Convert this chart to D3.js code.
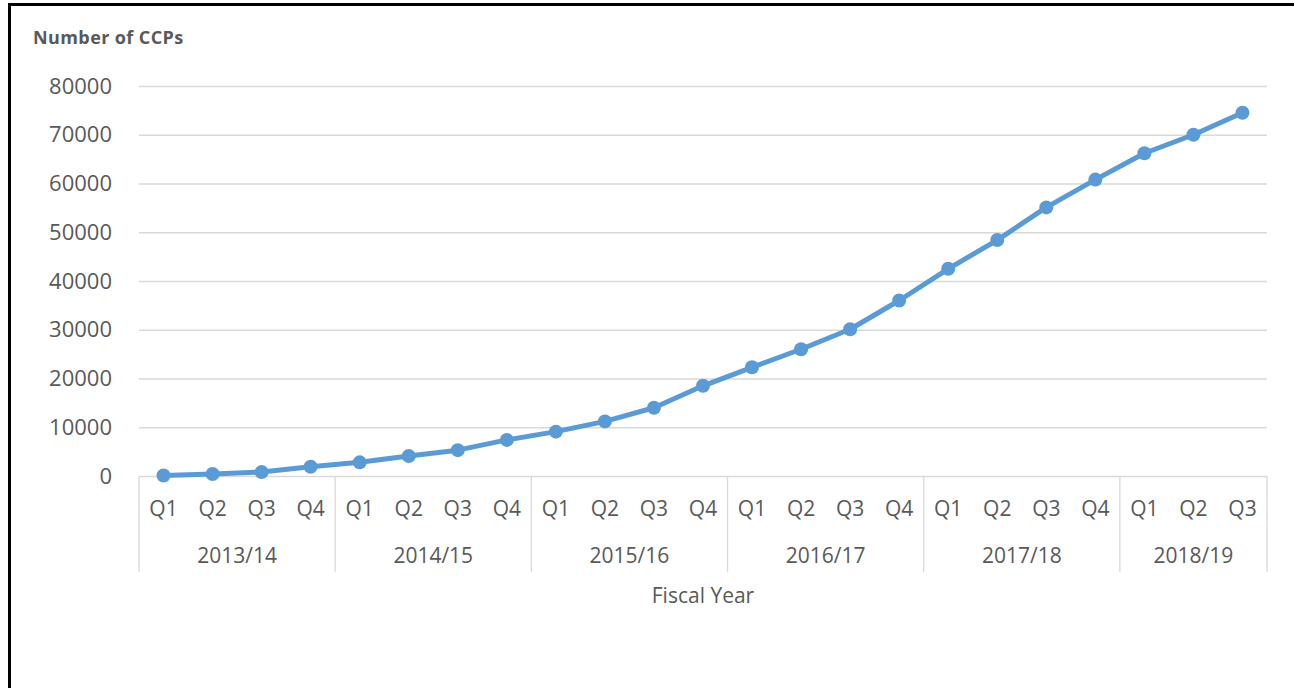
<!DOCTYPE html>
<html>
<head>
<meta charset="utf-8">
<script src="https://cdn.jsdelivr.net/npm/d3@7"></script>
<style>
  body { margin: 0; background: #fff; }
  text { font-family: 'Open Sans', sans-serif; fill: #595959; }
</style>
</head>
<body>
<svg id="chart" width="1294" height="688"></svg>
<script>
// quarterly counts
const fiscal_years = ['2013/14', '2014/15', '2015/16', '2016/17', '2017/18', '2018/19']
const quarters = ['Q1', 'Q2', 'Q3', 'Q4', 'Q1', 'Q2', 'Q3', 'Q4', 'Q1', 'Q2', 'Q3', 'Q4',
                  'Q1', 'Q2', 'Q3', 'Q4', 'Q1', 'Q2', 'Q3', 'Q4', 'Q1', 'Q2', 'Q3']
const quarter_year = [0, 0, 0, 0, 1, 1, 1, 1, 2, 2, 2, 2, 3, 3, 3, 3, 4, 4, 4, 4, 5, 5, 5]
const ccp_counts = [100, 400, 800, 1900, 2800, 4100, 5300, 7400, 9100, 11200, 14000, 18500,
                    22300, 26000, 30100, 36000, 42500, 48400, 55100, 60800, 66200, 70000, 74500]
const y_ticks = [0, 10000, 20000, 30000, 40000, 50000, 60000, 70000, 80000]

const svg = d3.select('#chart')
const plot_left = 139, plot_right = 1267, plot_top = 86, plot_bottom = 476

// frame
svg.append('path')
  .attr('d', `M 9.5 688 L 9.5 4.5 L 1294 4.5`)
  .attr('fill', 'none')
  .attr('stroke', '#000')
  .attr('stroke-width', 3)

const x = d3.scaleBand().domain(d3.range(ccp_counts.length)).range([plot_left, plot_right])
const y = d3.scaleLinear().domain([0, 80000]).range([plot_bottom, plot_top])

// y axis + gridlines
const y_axis = svg.append('g')
  .attr('transform', `translate(${plot_left},0)`)
  .call(d3.axisLeft(y).tickValues(y_ticks).tickSize(-(plot_right - plot_left)).tickPadding(27).tickFormat(d3.format('d')))
y_axis.select('.domain').remove()
y_axis.selectAll('line').attr('stroke', '#d9d9d9').attr('stroke-width', 1.3)
y_axis.selectAll('text')
  .attr('font-size', 22)
  .attr('fill', '#595959')
  .attr('font-family', "'Open Sans', sans-serif")

// quarter labels
svg.selectAll('.q-label')
  .data(quarters)
  .enter()
  .append('text')
  .attr('class', 'q-label')
  .attr('x', (d, i)=> x(i) + x.bandwidth() / 2)
  .attr('y', 516)
  .attr('text-anchor', 'middle')
  .attr('font-size', 21)
  .text((d)=> d)

// fiscal year groups
const year_span = fiscal_years.map((fy, j)=> {
  const idx = quarter_year.map((q, i)=> q === j ? i : -1).filter((i)=> i >= 0)
  return { name: fy, x0: x(idx[0]), x1: x(idx[idx.length - 1]) + x.bandwidth() }
})

const dividers = [year_span[0].x0].concat(year_span.map((s)=> s.x1))
svg.selectAll('.divider')
  .data(dividers)
  .enter()
  .append('line')
  .attr('class', 'divider')
  .attr('x1', (d)=> d).attr('x2', (d)=> d)
  .attr('y1', plot_bottom).attr('y2', 572)
  .attr('stroke', '#d9d9d9')
  .attr('stroke-width', 1.3)

svg.selectAll('.year-label')
  .data(year_span)
  .enter()
  .append('text')
  .attr('class', 'year-label')
  .attr('x', (d)=> (d.x0 + d.x1) / 2)
  .attr('y', 563)
  .attr('text-anchor', 'middle')
  .attr('font-size', 21)
  .text((d)=> d.name)

svg.append('text')
  .attr('x', (plot_left + plot_right) / 2)
  .attr('y', 603)
  .attr('text-anchor', 'middle')
  .attr('font-size', 21)
  .text('Fiscal Year')

svg.append('text')
  .attr('x', 33)
  .attr('y', 44)
  .attr('font-size', 18)
  .attr('font-weight', 'bold')
  .attr('letter-spacing', 0.4)
  .text('Number of CCPs')

// series
const line = d3.line()
  .x((d, i)=> x(i) + x.bandwidth() / 2)
  .y((d)=> y(d))

svg.append('path')
  .datum(ccp_counts)
  .attr('d', line)
  .attr('fill', 'none')
  .attr('stroke', '#5b9bd5')
  .attr('stroke-width', 5)
  .attr('stroke-linejoin', 'round')

svg.selectAll('.dot')
  .data(ccp_counts)
  .enter()
  .append('circle')
  .attr('class', 'dot')
  .attr('cx', (d, i)=> x(i) + x.bandwidth() / 2)
  .attr('cy', (d)=> y(d))
  .attr('r', 7)
  .attr('fill', '#5b9bd5')
</script>
</body>
</html>
